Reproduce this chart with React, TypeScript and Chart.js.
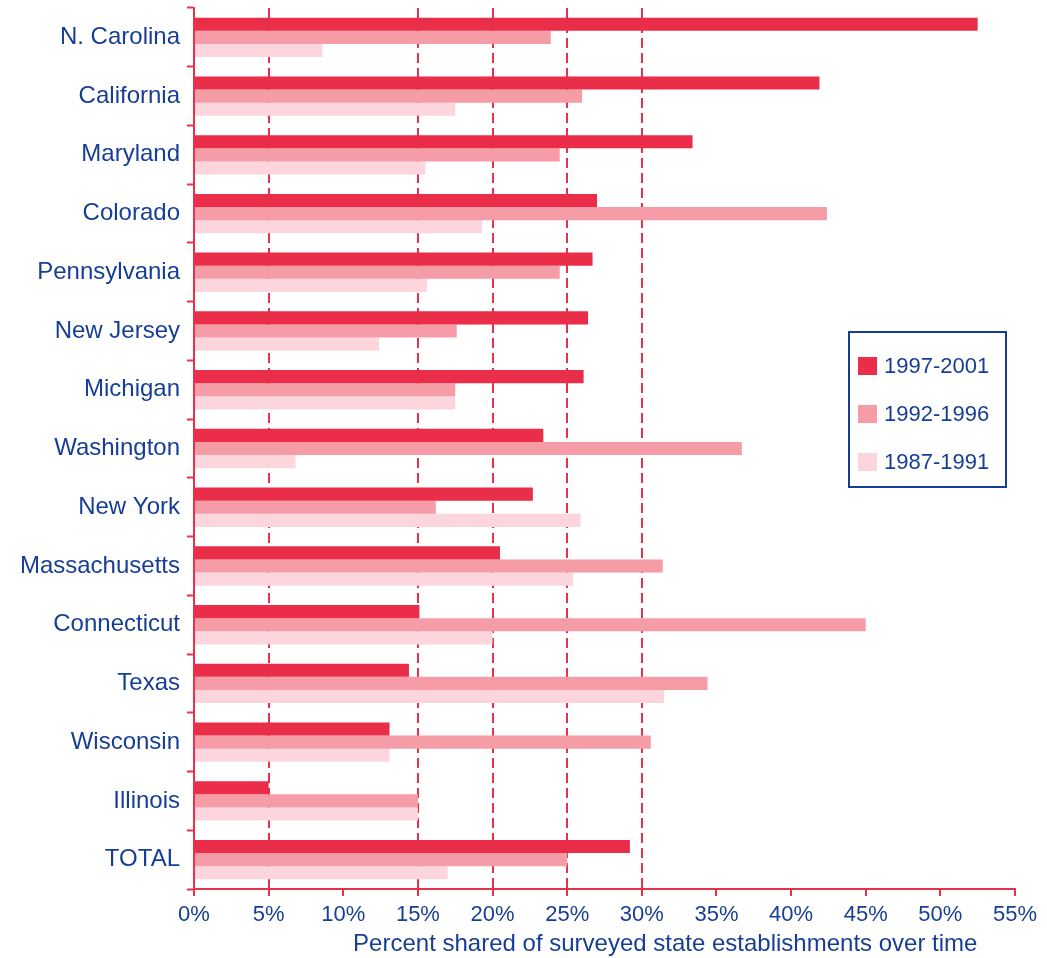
import React, { useEffect, useRef } from "react";
import { Chart, registerables } from "chart.js";

Chart.register(...registerables);

// ---- Data ----
const states = [
  "N. Carolina",
  "California",
  "Maryland",
  "Colorado",
  "Pennsylvania",
  "New Jersey",
  "Michigan",
  "Washington",
  "New York",
  "Massachusetts",
  "Connecticut",
  "Texas",
  "Wisconsin",
  "Illinois",
  "TOTAL",
];
const seriesLabels = ["1997-2001", "1992-1996", "1987-1991"];
const values1997_2001 = [52.5, 41.9, 33.4, 27.0, 26.7, 26.4, 26.1, 23.4, 22.7, 20.5, 15.1, 14.4, 13.1, 5.0, 29.2];
const values1992_1996 = [23.9, 26.0, 24.5, 42.4, 24.5, 17.6, 17.5, 36.7, 16.2, 31.4, 45.0, 34.4, 30.6, 15.0, 25.0];
const values1987_1991 = [8.6, 17.5, 15.5, 19.3, 15.6, 12.4, 17.5, 6.8, 25.9, 25.4, 20.0, 31.5, 13.1, 15.0, 17.0];
const xMin = 0;
const xMax = 55;
const xStep = 5;
const dashedGridValues = [5, 15, 20, 25, 30];
const axisTitle = "Percent shared of surveyed state establishments over time";

// ---- Styles ----
const FONT = '"Liberation Sans", Arial, Helvetica, sans-serif';
const NAVY = "#173e95";
const RED = "#e8324c";
const COLORS = ["#ea2d48", "#f59ca7", "#fcd6dc"];

const overlayPlugin = {
  id: "overlay",
  afterDraw(chart: any) {
    const { ctx, chartArea } = chart;
    ctx.save();
    // axis title
    ctx.font = `24px ${FONT}`;
    ctx.fillStyle = NAVY;
    ctx.textAlign = "center";
    ctx.textBaseline = "middle";
    const cx = chartArea.left + (chartArea.right - chartArea.left) * 0.574;
    ctx.fillText(axisTitle, cx, chart.height - 14);

    // legend box
    const w = 157;
    const h = 155;
    const left = chartArea.right - 166;
    const top = chartArea.top + 324;
    ctx.fillStyle = "#ffffff";
    ctx.fillRect(left, top, w, h);
    ctx.strokeStyle = NAVY;
    ctx.lineWidth = 2;
    ctx.strokeRect(left, top, w, h);
    chart.data.datasets.forEach((ds: any, i: number) => {
      const cy = top + 34 + i * 48;
      ctx.fillStyle = ds.backgroundColor;
      ctx.fillRect(left + 9, cy - 9, 19, 18);
      ctx.fillStyle = NAVY;
      ctx.font = `22px ${FONT}`;
      ctx.textAlign = "left";
      ctx.textBaseline = "middle";
      ctx.fillText(ds.label, left + 35, cy + 1);
    });
    ctx.restore();
  },
};

export default function App() {
  const canvasRef = useRef<HTMLCanvasElement | null>(null);

  useEffect(() => {
    document.body.style.margin = "0";
    const canvas = canvasRef.current;
    if (!canvas) return;
    const seriesValues = [values1997_2001, values1992_1996, values1987_1991];
    const chart = new Chart(canvas, {
      type: "bar",
      data: {
        labels: states,
        datasets: seriesLabels.map((label, i) => ({
          label,
          data: seriesValues[i],
          backgroundColor: COLORS[i],
          borderWidth: 0,
          categoryPercentage: 0.67,
          barPercentage: 1.0,
        })),
      },
      options: {
        indexAxis: "y",
        animation: false,
        responsive: false,
        devicePixelRatio: 1,
        layout: { padding: { top: 8, right: 0, bottom: 0, left: 0 } },
        plugins: {
          legend: { display: false },
          tooltip: { enabled: false },
          title: { display: false },
        },
        scales: {
          x: {
            type: "linear",
            position: "bottom",
            min: xMin,
            max: xMax,
            ticks: {
              stepSize: xStep,
              color: NAVY,
              font: { family: FONT, size: 22 },
              padding: 6,
              callback: (v: any) => `${v}%`,
            },
            grid: {
              drawOnChartArea: true,
              drawTicks: true,
              tickLength: 7,
              tickColor: RED,
              tickWidth: 2,
              tickBorderDash: [],
              lineWidth: 2,
              color: (ctx: any) =>
                ctx.tick && dashedGridValues.includes(ctx.tick.value) ? RED : "rgba(0,0,0,0)",
            },
            border: { display: true, color: RED, width: 2, dash: [10, 5] },
            afterFit: (scale: any) => {
              scale.height = 69;
              scale.paddingRight = 32;
              scale.paddingLeft = 0;
            },
          },
          y: {
            type: "category",
            position: "left",
            ticks: {
              color: NAVY,
              font: { family: FONT, size: 24 },
              padding: 7,
            },
            grid: {
              offset: true,
              drawOnChartArea: false,
              drawTicks: true,
              tickLength: 7,
              tickColor: RED,
              tickWidth: 2,
              color: RED,
            },
            border: { display: true, color: RED, width: 2 },
            afterFit: (scale: any) => {
              scale.width = 194;
              scale.paddingTop = 0;
              scale.paddingBottom = 0;
            },
          },
        },
      },
      plugins: [overlayPlugin],
    });
    return () => chart.destroy();
  }, []);

  return (
    <div style={{ width: 1047, height: 958 }}>
      <canvas ref={canvasRef} width={1047} height={958} style={{ display: "block" }} />
    </div>
  );
}
